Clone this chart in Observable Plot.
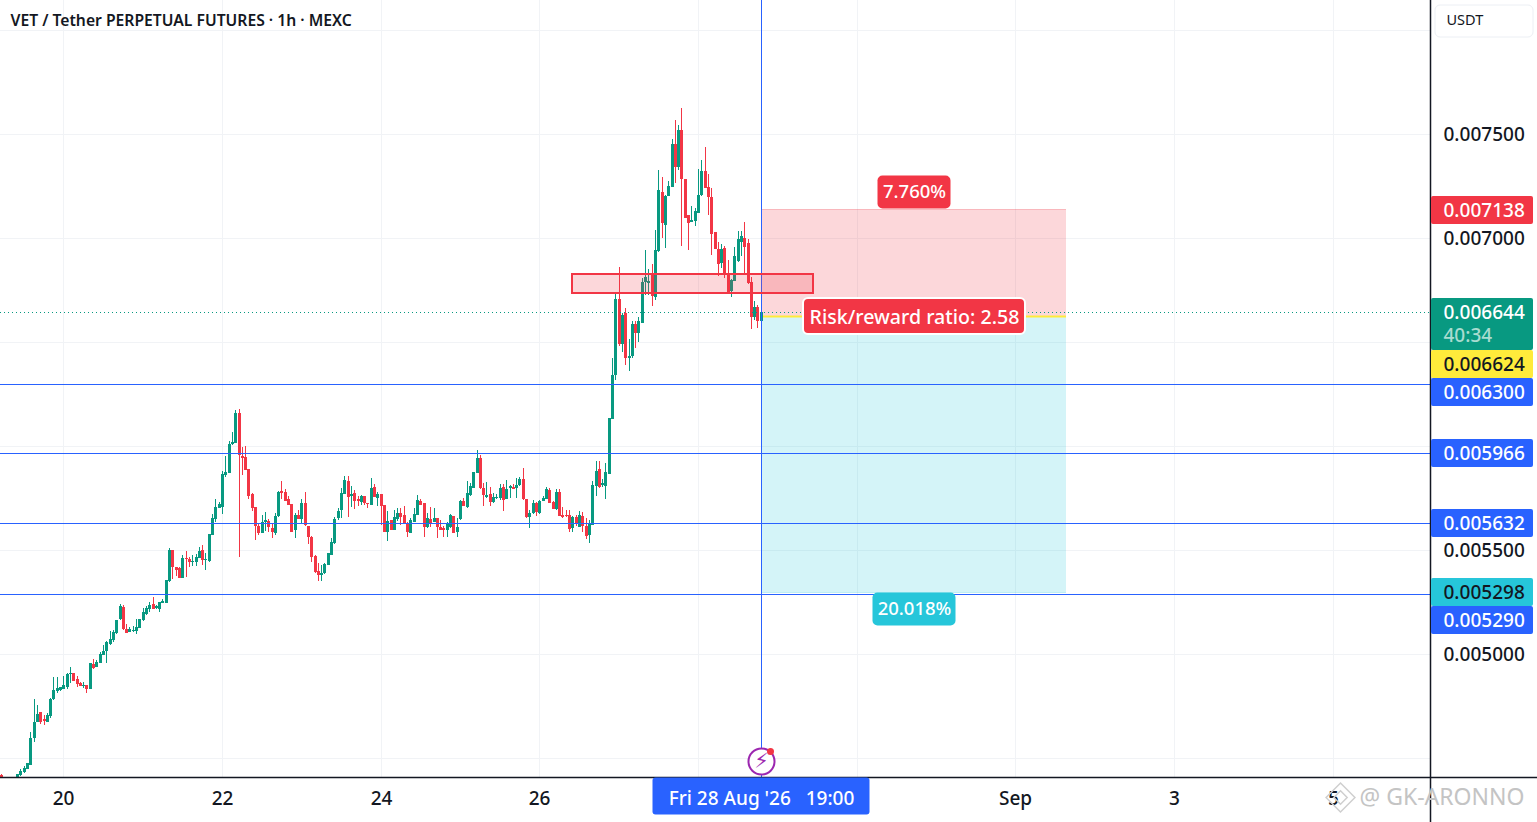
<!DOCTYPE html>
<html><head><meta charset="utf-8">
<script src="https://cdn.jsdelivr.net/npm/d3@7"></script>
<script src="https://cdn.jsdelivr.net/npm/@observablehq/plot@0.6"></script>
<style>html,body{margin:0;padding:0;background:#fff;overflow:hidden}svg{display:block}</style>
</head><body><div id="chart"></div>
<script>
// All prices are in millionths of a USDT; one candle per hour, the first at Aug 19 05:00 (UTC).
const firstCandle = Date.UTC(2026, 7, 19, 5);
const opens = [
4418,4400,4398,4395,4396,4407,4418,4434,4447,4466,4594,4674,4719,4686,4674,4702,4783,4822,4827,
4833,4843,4904,4907,4878,4860,4844,4849,4833,4950,4939,4958,4995,5014,5048,5067,5102,5168,5226,5118,5107,5110,5112,5126,
5163,5192,5215,5239,5223,5216,5247,5247,5351,5500,5418,5415,5367,5463,5457,5440,5444,5463,5500,5452,5445,5572,5647,5702,
5707,5860,5872,6009,6016,6157,5952,5945,5889,5769,5707,5615,5583,5634,5638,5606,5583,5663,5782,5779,5745,5721,5596,5668,
5650,5724,5615,5562,5471,5399,5380,5389,5428,5476,5533,5652,5692,5771,5832,5761,5776,5744,5732,5760,5724,5716,5803,5750,
5769,5716,5588,5644,5596,5647,5676,5667,5631,5583,5636,5670,5737,5724,5609,5647,5636,5652,5611,5604,5596,5609,5663,5587,
5647,5736,5705,5764,5798,5872,5942,5796,5756,5769,5729,5748,5748,5803,5745,5798,5804,5796,5812,5841,5745,5660,5676,5728,
5680,5736,5747,5788,5732,5696,5779,5668,5668,5668,5604,5660,5612,5663,5617,5572,5620,5807,5889,5812,5807,5865,6130,6341,
6706,6490,6639,6423,6432,6586,6543,6591,6788,6783,6831,6716,6937,7221,7062,7202,7245,7452,7341,7519,7283,7110,7077,7081,
7120,7206,7322,7245,7197,7029,6947,6880,6952,6822,6745,6793,6889,6980,6999,6976,6788,6620,6668,6601];
const closes = [
4405,4398,4395,4396,4400,4423,4437,4450,4474,4594,4674,4711,4674,4679,4707,4783,4827,4835,4840,
4849,4902,4910,4870,4856,4846,4851,4833,4955,4932,4961,5000,5013,5058,5070,5106,5163,5231,5120,5102,5118,5115,5128,5166,
5202,5221,5235,5216,5229,5250,5253,5356,5500,5418,5404,5367,5461,5457,5444,5447,5465,5495,5452,5458,5577,5654,5707,5721,
5865,5875,6009,6019,6157,5955,5942,5886,5759,5703,5615,5583,5634,5644,5612,5586,5662,5779,5775,5737,5718,5588,5668,5650,
5724,5618,5561,5468,5394,5380,5389,5432,5485,5538,5649,5687,5772,5837,5753,5768,5736,5737,5760,5724,5721,5798,5756,5769,
5712,5588,5639,5596,5657,5676,5660,5628,5586,5644,5673,5740,5718,5612,5654,5628,5652,5612,5598,5598,5628,5668,5583,5612,
5736,5712,5772,5808,5873,5942,5798,5766,5763,5732,5753,5755,5798,5740,5795,5808,5793,5812,5841,5744,5660,5676,5724,5683,
5734,5750,5792,5728,5697,5779,5665,5657,5662,5601,5660,5627,5668,5617,5569,5625,5812,5880,5803,5822,5875,6134,6341,6706,
6490,6630,6423,6432,6586,6543,6601,6788,6812,6793,6721,6942,7231,7072,7202,7250,7452,7341,7519,7283,7096,7072,7086,7130,
7206,7322,7240,7197,7019,6947,6875,6947,6827,6735,6798,6913,6995,7009,6956,6783,6620,6668,6601,6644];
const highs = [
4425,4404,4402,4401,4403,4423,4445,4461,4477,4626,4783,4755,4719,4707,4718,4790,4891,4891,4842,
4894,4907,4939,4907,4894,4867,4864,4851,4957,4974,4971,5011,5043,5064,5110,5115,5165,5240,5234,5144,5131,5134,5166,5168,
5221,5231,5248,5274,5237,5252,5264,5358,5509,5502,5420,5417,5476,5495,5468,5476,5481,5513,5524,5487,5579,5673,5745,5732,
5878,5952,6022,6066,6173,6178,5997,6000,5891,5772,5709,5631,5668,5683,5647,5628,5676,5782,5832,5791,5759,5723,5676,5692,
5745,5779,5617,5567,5476,5437,5428,5437,5487,5557,5658,5700,5796,5856,5856,5808,5788,5760,5766,5762,5728,5846,5817,5780,
5771,5718,5689,5646,5692,5700,5704,5712,5633,5652,5700,5764,5744,5726,5676,5705,5704,5654,5644,5615,5636,5673,5665,5652,
5738,5748,5832,5821,5875,5981,5957,5821,5829,5804,5776,5769,5817,5817,5837,5812,5817,5845,5849,5896,5747,5692,5740,5732,
5740,5760,5804,5800,5734,5792,5792,5705,5692,5692,5662,5668,5689,5684,5652,5644,5831,5928,5928,5841,5918,6136,6423,6730,
6860,6639,6663,6514,6601,6601,6620,6807,6942,6851,6875,7038,7327,7293,7206,7274,7476,7567,7543,7625,7285,7112,7154,7144,
7331,7375,7437,7307,7240,7031,6980,6971,6961,6894,6803,6956,7033,7033,7077,6995,6812,6697,6678,6644];
const lows = [
4400,4392,4390,4388,4390,4407,4415,4430,4445,4464,4578,4672,4663,4658,4672,4694,4781,4811,4824,
4830,4833,4859,4868,4840,4844,4835,4814,4831,4928,4937,4956,4993,4955,5043,5059,5096,5163,5115,5100,5104,5106,5096,5124,
5161,5187,5203,5214,5216,5202,5243,5245,5346,5360,5376,5365,5365,5372,5420,5424,5423,5461,5428,5404,5443,5570,5634,5700,
5673,5852,5870,6007,6014,5468,5862,5884,5747,5689,5548,5572,5581,5593,5586,5558,5574,5660,5745,5735,5716,5586,5559,5648,
5625,5616,5529,5443,5389,5351,5351,5387,5426,5474,5531,5644,5652,5769,5660,5705,5695,5712,5716,5716,5702,5714,5754,5712,
5620,5586,5545,5594,5594,5641,5620,5626,5564,5581,5634,5668,5716,5564,5607,5612,5634,5559,5596,5564,5564,5607,5581,5564,
5644,5710,5703,5762,5796,5870,5795,5712,5748,5712,5728,5745,5740,5687,5743,5748,5791,5748,5810,5742,5652,5607,5674,5665,
5673,5734,5745,5726,5695,5694,5663,5655,5657,5588,5587,5615,5610,5588,5554,5535,5618,5759,5798,5803,5745,5863,6128,6317,
6481,6452,6389,6360,6423,6471,6500,6589,6726,6726,6673,6702,6935,7000,6952,7200,7243,7264,7327,6961,7094,6942,7075,7057,
7118,7204,7238,7110,6918,6945,6817,6856,6807,6733,6716,6791,6887,6913,6831,6781,6562,6605,6567,6601];

const levels = [6300, 5966, 5632, 5290];
const lastPrice = 6644, targetPrice = 5298, entryPrice = 6624, stopPrice = 7138;
const zoneLow = 6736, zoneHigh = 6827;
const priceTicks = [5000, 5500, 7000, 7500];
const priceGrid = [4500, 5000, 5500, 6000, 6500, 7000, 7500, 8000];
const gridDays = [[2026,7,20],[2026,7,22],[2026,7,24],[2026,7,26],[2026,7,28],[2026,7,30],[2026,8,1],[2026,8,3],[2026,8,5]];
const labelDays = [[2026,7,20],[2026,7,22],[2026,7,24],[2026,7,26],[2026,8,1],[2026,8,3],[2026,8,5]];
const dayNames = ["20","22","24","26","Sep","3","5"];

const tagTexts = ["0.007138","0.006644","0.006624","0.006300","0.005966","0.005632","0.005298","0.005290"];
const tagSpots = [7134, 6586, 6394, 6260, 5966, 5630, 5298, 5163];
const tagTextSpots = [7134, 6644, 6394, 6260, 5966, 5630, 5298, 5163];
const tagFills = ["#f23645","#089981","#ffeb3b","#2962ff","#2962ff","#2962ff","#26c6da","#2962ff"];
const tagInks = ["#fff","#fff","#131722","#fff","#fff","#fff","#131722","#fff"];
const tagHalf = [14, 26, 14, 14, 14, 14, 14, 14];

const FONT = "'Noto Sans', sans-serif";
const up = "#089981", down = "#f23645", blue = "#2962ff", grid = "#f1f3f6", ink = "#131722";
const P = v => v / 1e6;
const hourAt = h => new Date(firstCandle + h * 3600e3);

const candles = opens.map((o, i) => ({t: hourAt(i), o: P(o), c: P(closes[i]), h: P(highs[i]), l: P(lows[i])}));
if (candles.length !== 231 || closes.length !== 231 || highs.length !== 231 || lows.length !== 231)
  throw new Error(`length mismatch ${opens.length} ${closes.length} ${highs.length} ${lows.length}`);

const lastHour = opens.length - 1;
const xDomain = [hourAt(-0.16), hourAt(432.45)];
const axisEnd = xDomain[1];
const tagEnd = hourAt(432.45 + 31.2);
const pageEnd = hourAt(464.9);
const yDomain = [P(4408.7), P(8144.2)];
const footPrice = P(4192);
const posEnd = hourAt(lastHour + 92.4);
const posMid = hourAt(lastHour + 46.2);
const zoneStart = hourAt(173), zoneEnd = hourAt(245.9);
const tagIdx = tagTexts.map((_, i) => i);
const toDates = list => list.map(d => new Date(Date.UTC(...d)));
const days = toDates(gridDays), tickDays = toDates(labelDays);

const pill = (x, y, halfW, halfH, fill, opts = {}) => Plot.rect([0], {
  x1: () => x, x2: () => x, y1: () => P(y), y2: () => P(y),
  insetLeft: -halfW, insetRight: -halfW, insetTop: -halfH, insetBottom: -halfH,
  fill, rx: 5, ...opts});
const label = (text, x, y, o = {}) => Plot.text([text], {x: () => x, y: () => P(y), text: d => d, fontSize: 19, fontWeight: 500, fill: "#fff", ...o});

const chart = Plot.plot({
  width: 1537, height: 822,
  marginLeft: 0, marginRight: 107, marginTop: 0, marginBottom: 45,
  x: {type: "utc", domain: xDomain, round: true, label: null},
  y: {domain: yDomain, round: true, label: null},
  color: {type: "identity"},
  style: {fontFamily: FONT, background: "#fff", overflow: "visible"},
  marks: [
    Plot.ruleX(days, {stroke: grid}),
    Plot.ruleY(priceGrid.map(P), {stroke: grid}),
    // position tool
    Plot.rect([0], {x1: () => hourAt(lastHour), x2: () => posEnd, y1: () => P(entryPrice), y2: () => P(stopPrice), fill: "#f23645", fillOpacity: 0.2}),
    Plot.rect([0], {x1: () => hourAt(lastHour), x2: () => posEnd, y1: () => P(targetPrice), y2: () => P(entryPrice), fill: "#26c6da", fillOpacity: 0.2}),
    Plot.ruleY([P(stopPrice)], {x1: hourAt(lastHour), x2: posEnd, stroke: "#f23645", strokeOpacity: 0.2}),
    Plot.ruleY([P(targetPrice)], {x1: hourAt(lastHour), x2: posEnd, stroke: "#26c6da", strokeOpacity: 0.3}),
    Plot.ruleY([P(entryPrice)], {x1: hourAt(lastHour), x2: posEnd, stroke: "#ffeb3b", strokeWidth: 2}),
    // candles
    Plot.ruleX(candles, {x: "t", y1: "l", y2: "h", stroke: d => d.c >= d.o ? up : down, strokeWidth: 1, clip: true}),
    Plot.ruleX(candles, {x: "t", y1: "o", y2: "c", stroke: d => d.c >= d.o ? up : down, strokeWidth: 3, clip: true}),
    // horizontal levels, last price, crosshair
    Plot.ruleY(levels.map(P), {stroke: blue, strokeWidth: 1}),
    Plot.ruleY([P(lastPrice)], {stroke: up, strokeDasharray: "1 3", strokeWidth: 1}),
    Plot.ruleX([hourAt(lastHour)], {stroke: blue, strokeWidth: 1}),
    // supply zone
    Plot.rect([0], {x1: () => zoneStart, x2: () => zoneEnd, y1: () => P(zoneLow), y2: () => P(zoneHigh), fill: "#f23645", fillOpacity: 0.2, stroke: "#f23645", strokeOpacity: 1, strokeWidth: 2}),
    // measure labels
    pill(posMid, 7219, 36.5, 16.5, "#f23645"),
    label("7.760%", posMid, 7219, {fontSize: 18.5}),
    pill(posMid, 5218, 41.5, 16.5, "#26c6da"),
    label("20.018%", posMid, 5218, {fontSize: 18.5}),
    pill(posMid, 6624, 111, 18, "#f23645", {stroke: "#fff", strokeWidth: 2}),
    label("Risk/reward ratio: 2.58", posMid, 6620, {fontSize: 19.6}),
    // event icon
    Plot.dot([0], {x: () => hourAt(lastHour), y: () => P(4485), r: 13, fill: "#fff", stroke: "#9c27b0", strokeWidth: 2}),
    Plot.text(["\u26A1"], {x: () => hourAt(lastHour), y: () => P(4485), text: d => d, fontSize: 21, fill: "#9c27b0", fontFamily: "'DejaVu Sans'"}),
    Plot.dot([0], {x: () => hourAt(lastHour), y: () => P(4485), dx: 9, dy: -10, r: 3.5, fill: "#f23645"}),
    // axes
    Plot.ruleY([yDomain[0]], {x1: xDomain[0], x2: pageEnd, stroke: ink, strokeWidth: 1.5}),
    Plot.ruleX([axisEnd], {y1: footPrice, y2: yDomain[1], stroke: ink, strokeWidth: 1.5}),
    Plot.axisY(priceTicks.map(P), {anchor: "right", tickSize: 0, tickPadding: 13, tickFormat: d => d.toFixed(6), label: null, fontSize: 19, fontWeight: 500, fill: ink}),
    Plot.axisX(tickDays, {anchor: "bottom", tickSize: 0, tickPadding: 14, tickFormat: (d, i) => dayNames[i], label: null, fontSize: 19, fontWeight: 500, fill: ink}),
    // crosshair date
    Plot.rect([0], {x1: () => hourAt(lastHour), x2: () => hourAt(lastHour), y1: () => P(4315), y2: () => P(4315), insetLeft: -108.5, insetRight: -108.5, insetTop: -18.5, insetBottom: -18.5, fill: blue, rx: 3}),
    label("Fri 28 Aug '26\u00a0\u00a0\u00a019:00", hourAt(lastHour), 4310),
    // price tags on the axis
    ...tagIdx.map(i => Plot.rect([i], {x1: () => axisEnd, x2: () => tagEnd, y1: () => P(tagSpots[i]), y2: () => P(tagSpots[i]),
      insetTop: -tagHalf[i], insetBottom: -tagHalf[i], insetLeft: 1, rx: 2, fill: tagFills[i]})),
    Plot.text(tagIdx, {x: () => axisEnd, y: i => P(tagTextSpots[i]), dx: 13, text: i => tagTexts[i], textAnchor: "start", fontSize: 19, fontWeight: 500, fill: i => tagInks[i]}),
    Plot.text(["40:34"], {x: () => axisEnd, y: () => P(6533), dx: 13, text: d => d, textAnchor: "start", fontSize: 19, fontWeight: 500, fill: "#a9dcd0"}),
    // currency button
    Plot.rect([0], {x1: () => hourAt(432.45 + 1.6), x2: () => hourAt(432.45 + 31.2), y1: () => P(8045), y2: () => P(8045), insetTop: -16, insetBottom: -16, rx: 5, fill: "#fff", stroke: "#eceff4"}),
    Plot.text(["USDT"], {x: () => axisEnd, y: () => P(8048), dx: 16, text: d => d, textAnchor: "start", fontSize: 14.5, fill: ink}),
    // title
    Plot.text(["VET / Tether PERPETUAL FUTURES \u00b7 1h \u00b7 MEXC"], {frameAnchor: "top-left", text: d => d, textAnchor: "start", lineAnchor: "middle", dx: 10, dy: 20, fontSize: 15.7, fontWeight: 600, fill: ink}),
    // watermark
    Plot.dot([0], {x: () => hourAt(405.3), y: () => P(4312), r: 13, symbol: "diamond2", fill: "none", stroke: "#cfcfcf", strokeWidth: 1.5}),
    Plot.dot([0], {x: () => hourAt(405.3), y: () => P(4312), r: 6, symbol: "diamond2", fill: "none", stroke: "#cfcfcf", strokeWidth: 1.5}),
    Plot.text(["@ GK-ARONNO"], {x: () => hourAt(411), y: () => P(4312), text: d => d, textAnchor: "start", fontSize: 23, fill: "#c4c4c4"})
  ]
});
document.getElementById("chart").append(chart);
</script></body></html>
